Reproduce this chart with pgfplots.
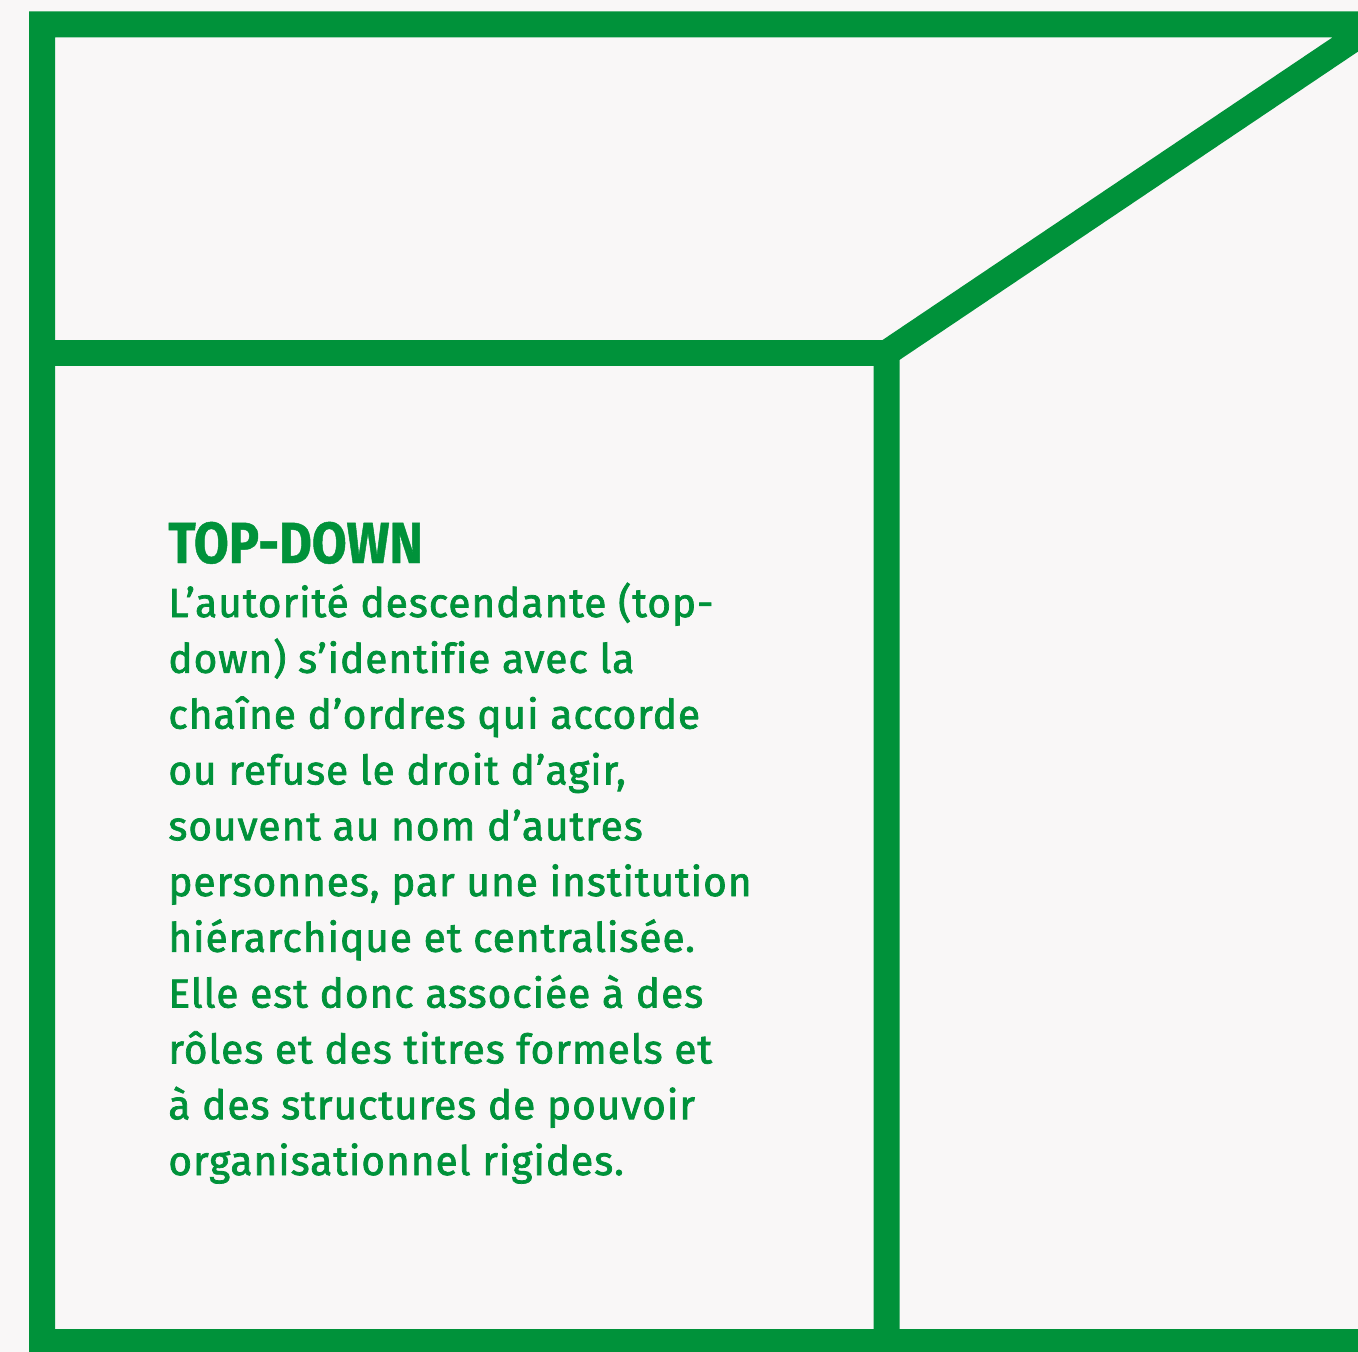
\documentclass[border=0pt]{standalone}
\usepackage{pgfplots}
\pgfplotsset{compat=1.18}
\usepackage{fontspec}
\setmainfont{Fira Sans}
\newfontfamily\titlefont{Fira Sans}[FakeStretch=0.87, FakeBold=0.8]
\newfontfamily\bodyfont{Fira Sans}[FakeBold=1.8, LetterSpace=2.4, Ligatures=NoCommon]
\definecolor{dgreen}{RGB}{0,146,58}
\definecolor{bgc}{RGB}{249,247,247}

\begin{document}
\begin{tikzpicture}
\begin{axis}[
    width=679pt, height=676pt, scale only axis,
    xmin=0, xmax=1358, ymin=0, ymax=1352,
    y dir=reverse, hide axis, clip=true,
]
% background
\addplot[fill=bgc, draw=none] coordinates {(0,0) (1358,0) (1358,1352) (0,1352)} -- cycle;
% frame: left side, top, diagonal, middle vertical
\addplot[draw=dgreen, line width=13pt, line join=miter, miter limit=20, no marks]
    coordinates {(42,1400) (42,24.5) (1375,24.5) (886.5,353) (886.5,1400)};
% middle horizontal
\addplot[draw=dgreen, line width=13pt, no marks]
    coordinates {(42,353) (886.5,353)};
% bottom
\addplot[draw=dgreen, line width=13pt, no marks]
    coordinates {(42,1342) (1400,1342)};

\node[anchor=base west, inner sep=0pt, text=dgreen,
      font=\titlefont\bfseries\fontsize{29}{29}\selectfont]
    at (axis cs:168,563) {TOP-DOWN};
\tikzset{body/.style={anchor=base west, inner sep=0pt, text=dgreen,
      font=\bodyfont\fontsize{20.3}{27.7}\selectfont}}
\node[body] at (axis cs:168,617.0) {L’autorité descendante (top-};
\node[body] at (axis cs:168,672.8) {down) s’identifie avec la};
\node[body] at (axis cs:168,728.6) {chaîne d’ordres qui accorde};
\node[body] at (axis cs:168,784.4) {ou refuse le droit d’agir,};
\node[body] at (axis cs:168,840.2) {souvent au nom d’autres};
\node[body] at (axis cs:168,896.0) {personnes, par une institution};
\node[body] at (axis cs:168,951.8) {hiérarchique et centralisée.};
\node[body] at (axis cs:168,1007.6) {Elle est donc associée à des};
\node[body] at (axis cs:168,1063.4) {rôles et des titres formels et};
\node[body] at (axis cs:168,1119.2) {à des structures de pouvoir};
\node[body] at (axis cs:168,1175.0) {organisationnel rigides.};
\end{axis}
\end{tikzpicture}
\end{document}
